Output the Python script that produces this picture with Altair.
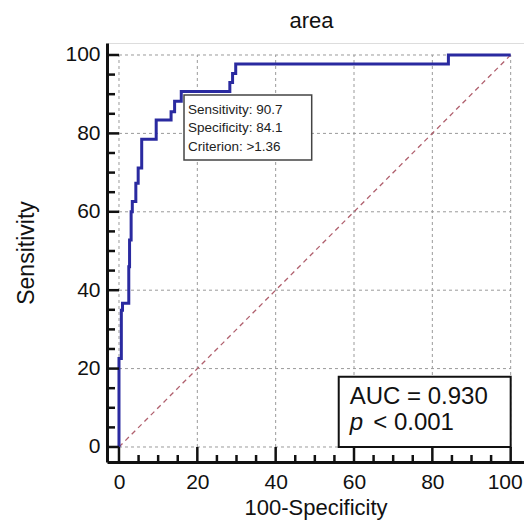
import altair as alt
import pandas as pd

# ROC curve (100-Specificity, Sensitivity)
fpr = [0, 0, 0.6, 0.6, 0.9, 0.9, 2.5, 2.5, 2.7, 2.7, 3.1, 3.1, 3.4, 3.4, 4.3, 4.3,
       4.9, 4.9, 5.8, 5.8, 9.5, 9.5, 13.3, 13.3, 14.2, 14.2, 15.9, 15.9, 28.3, 28.3,
       29.0, 29.0, 29.8, 29.8, 84.1, 84.1, 100]
tpr = [0, 22.6, 22.6, 34.9, 34.9, 36.7, 36.7, 46.0, 46.0, 52.8, 52.8, 60.0, 60.0, 62.6, 62.6, 67.3,
       67.3, 71.2, 71.2, 78.5, 78.5, 83.4, 83.4, 85.5, 85.5, 88.2, 88.2, 90.7, 90.7, 93.0,
       93.0, 95.3, 95.3, 97.7, 97.7, 100, 100]

major_ticks = [0, 20, 40, 60, 80, 100]
minor_ticks = [5, 10, 15, 25, 30, 35, 45, 50, 55, 65, 70, 75, 85, 90, 95]

chart_title = "area"
x_title = "100-Specificity"
y_title = "Sensitivity"

criterion_lines = ["Sensitivity: 90.7", "Specificity: 84.1", "Criterion: >1.36"]
criterion_box = {"x": 16.6, "x2": 49.2, "y": 89.8, "y2": 73.2}
criterion_text_x = 17.6
criterion_text_y = [85.9, 81.3, 76.5]

auc_box = {"x": 56.1, "x2": 100, "y": 17.9, "y2": 0}
auc_text = "AUC = 0.930"
p_label = "p"
p_text = "< 0.001"
auc_text_pos = (58.9, 12.8)
p_pos = (58.9, 6.1)
p_text_x = 64.9

W, H = 417, 419
FONT = "Liberation Sans"
XS = alt.Scale(domain=[-3.06, 103.4], nice=False, zero=False)
YS = alt.Scale(domain=[-3.83, 103.06], nice=False, zero=False)

roc = pd.DataFrame({"x": fpr, "y": tpr, "i": list(range(len(fpr)))})
grid = pd.DataFrame({"v": major_ticks, "lo": min(major_ticks), "hi": max(major_ticks)})
diag = pd.DataFrame({"x": [min(major_ticks), max(major_ticks)], "y": [min(major_ticks), max(major_ticks)]})
maj = pd.DataFrame({"v": major_ticks})
mnr = pd.DataFrame({"v": minor_ticks})

xaxis = alt.Axis(values=major_ticks, ticks=False, grid=False, domain=True, domainWidth=3,
                 domainColor="#111", labelFontSize=21, labelFont=FONT, labelColor="#111",
                 labelPadding=9, labelFlush=False, labelOverlap=False,
                 labelOffset={"expr": "datum.value == 100 ? -6 : 0"},
                 title=x_title, titleFont=FONT, titleFontSize=22,
                 titleFontWeight="normal", titleColor="#111", titlePadding=5)
yaxis = alt.Axis(values=major_ticks, ticks=False, grid=False, domain=True, domainWidth=3,
                 domainColor="#111", labelFontSize=21, labelFont=FONT, labelColor="#111",
                 labelPadding=7, labelFlush=False, labelOverlap=False,
                 title=y_title, titleFont=FONT, titleFontSize=23,
                 titleFontWeight="normal", titleColor="#111", titlePadding=26)


def X(f):
    return alt.X(f, scale=XS, axis=xaxis, title=x_title)


def Y(f):
    return alt.Y(f, scale=YS, axis=yaxis, title=y_title)


vgrid = alt.Chart(grid).mark_rule(color="#9a9a9a", strokeWidth=1, strokeDash=[3, 3]).encode(
    x=X("v:Q"), y=Y("lo:Q"), y2="hi:Q")
hgrid = alt.Chart(grid).mark_rule(color="#9a9a9a", strokeWidth=1, strokeDash=[3, 3]).encode(
    y=Y("v:Q"), x=X("lo:Q"), x2="hi:Q")

diag_line = alt.Chart(diag).mark_line(color="#b0606e", strokeWidth=1.3, strokeDash=[5, 4]).encode(
    x=X("x:Q"), y=Y("y:Q"))

curve = alt.Chart(roc).mark_line(color="#2a2aa0", strokeWidth=3, strokeJoin="miter").encode(
    x=X("x:Q"), y=Y("y:Q"), order="i:Q")

cb = alt.Chart(pd.DataFrame([criterion_box])).mark_rect(fill="white", stroke="#444", strokeWidth=1.5).encode(
    x=X("x:Q"), x2="x2:Q", y=Y("y:Q"), y2="y2:Q")
ct = alt.Chart(pd.DataFrame({"t": criterion_lines, "x": criterion_text_x, "y": criterion_text_y})).mark_text(
    align="left", baseline="middle", font=FONT, fontSize=13.5, color="#222").encode(
    x=X("x:Q"), y=Y("y:Q"), text="t:N")

ab = alt.Chart(pd.DataFrame([auc_box])).mark_rect(fill="white", stroke="#111", strokeWidth=2).encode(
    x=X("x:Q"), x2="x2:Q", y=Y("y:Q"), y2="y2:Q")
at = alt.Chart(pd.DataFrame({"t": [auc_text, p_text], "x": [auc_text_pos[0], p_text_x],
                             "y": [auc_text_pos[1], p_pos[1]]})).mark_text(
    align="left", baseline="middle", font=FONT, fontSize=24, color="#111").encode(
    x=X("x:Q"), y=Y("y:Q"), text="t:N")
pt = alt.Chart(pd.DataFrame({"t": [p_label], "x": [p_pos[0]], "y": [p_pos[1]]})).mark_text(
    align="left", baseline="middle", font=FONT, fontSize=24, fontStyle="italic", color="#111").encode(
    x=X("x:Q"), y=Y("y:Q"), text="t:N")

xmaj = alt.Chart(maj).mark_rule(color="#111", strokeWidth=2.5).encode(
    x=X("v:Q"), y=alt.value(H), y2=alt.value(H - 15))
xmin = alt.Chart(mnr).mark_rule(color="#111", strokeWidth=2.5).encode(
    x=X("v:Q"), y=alt.value(H), y2=alt.value(H - 7))
ymaj = alt.Chart(maj).mark_rule(color="#111", strokeWidth=2.5).encode(
    y=Y("v:Q"), x=alt.value(0), x2=alt.value(12))
ymin = alt.Chart(mnr).mark_rule(color="#111", strokeWidth=2.5).encode(
    y=Y("v:Q"), x=alt.value(0), x2=alt.value(8))

ttl = alt.Chart(pd.DataFrame({"t": [chart_title]})).mark_text(
    align="center", baseline="alphabetic", font=FONT, fontSize=22, color="#111").encode(
    x=alt.value(W / 2 - 4), y=alt.value(-15), text="t:N")

chart = alt.layer(vgrid, hgrid, diag_line, curve, cb, ct, ab, at, pt, xmaj, xmin, ymaj, ymin, ttl).properties(
    width=W, height=H,
    autosize=alt.AutoSizeParams(type="none"),
    padding={"left": 99, "top": 35, "right": 0, "bottom": 58},
).configure_view(stroke=None).configure(background="white")

chart.save("out.html", embed_options={"renderer": "svg", "actions": False})
